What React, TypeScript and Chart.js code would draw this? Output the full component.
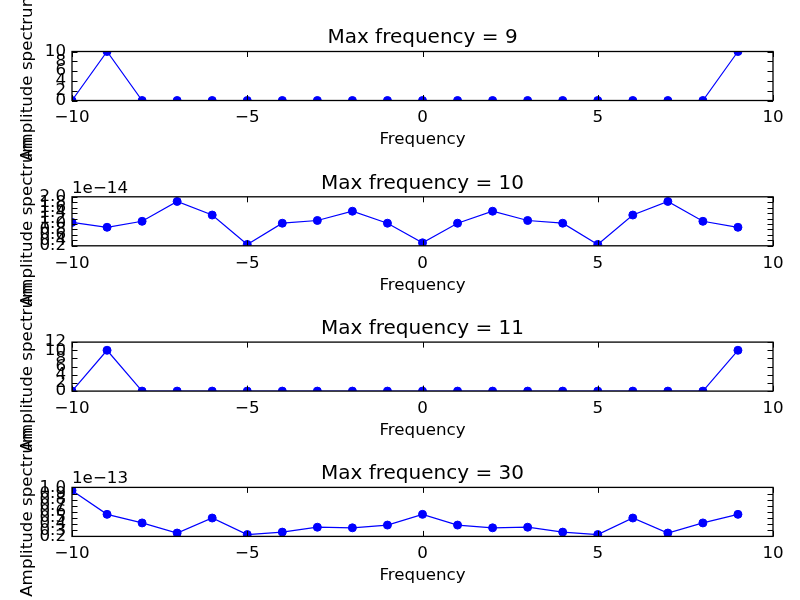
import React, { useEffect, useRef } from "react";
import { Chart, registerables } from "chart.js";

Chart.register(...registerables);

// ---------- data ----------
const FREQUENCIES = [-10, -9, -8, -7, -6, -5, -4, -3, -2, -1, 0, 1, 2, 3, 4, 5, 6, 7, 8, 9];

const AMP_MAX9 = [0, 10, 0, 0, 0, 0, 0, 0, 0, 0, 0, 0, 0, 0, 0, 0, 0, 0, 0, 10];
const AMP_MAX10 = [
  1.06e-14, 0.88e-14, 1.1e-14, 1.83e-14, 1.33e-14, 0.25e-14, 1.03e-14, 1.13e-14, 1.47e-14, 1.03e-14,
  0.31e-14, 1.03e-14, 1.47e-14, 1.13e-14, 1.03e-14, 0.25e-14, 1.33e-14, 1.83e-14, 1.1e-14, 0.88e-14,
];
const AMP_MAX11 = [0, 10, 0, 0, 0, 0, 0, 0, 0, 0, 0, 0, 0, 0, 0, 0, 0, 0, 0, 10];
const AMP_MAX30 = [
  0.95e-13, 0.56e-13, 0.42e-13, 0.255e-13, 0.5e-13, 0.23e-13, 0.27e-13, 0.35e-13, 0.34e-13, 0.385e-13,
  0.56e-13, 0.385e-13, 0.34e-13, 0.35e-13, 0.27e-13, 0.23e-13, 0.5e-13, 0.255e-13, 0.42e-13, 0.56e-13,
];

const TITLES = ["Max frequency = 9", "Max frequency = 10", "Max frequency = 11", "Max frequency = 30"];
const X_LABEL = "Frequency";
const Y_LABEL = "Amplitude spectrum";

const X_TICKS = [-10, -5, 0, 5, 10];
const Y_TICKS_MAX9 = [0, 2, 4, 6, 8, 10];
const Y_TICKS_MAX10 = [0.2, 0.4, 0.6, 0.8, 1.0, 1.2, 1.4, 1.6, 1.8, 2.0];
const Y_TICKS_MAX11 = [0, 2, 4, 6, 8, 10, 12];
const Y_TICKS_MAX30 = [0.2, 0.3, 0.4, 0.5, 0.6, 0.7, 0.8, 0.9, 1.0];

const Y_SCALE_FACTORS = [1, 1e-14, 1, 1e-13];
const OFFSET_TEXTS = ["", "1e\u221214", "", "1e\u221213"];
const Y_DECIMALS = [0, 1, 0, 1];

// ---------- layout (pixels) ----------
const AXES_TOPS = [51.5, 196.8, 342.1, 487.4];
const AXES_HEIGHT = 49;
const AXES_LEFT = 72;
const AXES_RIGHT = 773;
const W = 800;
const H = 600;
const X_AXIS_BOX = 49.5;
const TITLE_FONT = 20;
const TITLE_GAP = 13.3;
const LABEL_FONT = 16.7;
const FONT_FAMILY = "'DejaVu Sans', sans-serif";

const SERIES = [AMP_MAX9, AMP_MAX10, AMP_MAX11, AMP_MAX30];
const Y_TICKS = [Y_TICKS_MAX9, Y_TICKS_MAX10, Y_TICKS_MAX11, Y_TICKS_MAX30];

const fmtMinus = (s: string) => s.replace("-", "\u2212");

const framePlugin = {
  id: "mplFrame",
  afterDatasetsDraw(chart: any, _args: any, opts: any) {
    const { ctx, chartArea } = chart;
    const { left, right, top, bottom } = chartArea;
    const xs = chart.scales.x;
    const ys = chart.scales.y;
    const L = 5.5;
    ctx.save();
    ctx.strokeStyle = "#000";
    ctx.lineWidth = 1;
    ctx.beginPath();
    xs.ticks.forEach((t: any) => {
      const px = Math.round(xs.getPixelForValue(t.value)) + 0.5;
      ctx.moveTo(px, bottom);
      ctx.lineTo(px, bottom - L);
      ctx.moveTo(px, top);
      ctx.lineTo(px, top + L);
    });
    ys.ticks.forEach((t: any) => {
      const py = Math.round(ys.getPixelForValue(t.value)) + 0.5;
      ctx.moveTo(left, py);
      ctx.lineTo(left + L, py);
      ctx.moveTo(right, py);
      ctx.lineTo(right - L, py);
    });
    ctx.stroke();
    ctx.lineWidth = 1.3;
    ctx.strokeRect(left, top, right - left, bottom - top);
    ctx.fillStyle = "#000";
    if (opts && opts.offsetText) {
      ctx.font = `${LABEL_FONT}px ${FONT_FAMILY}`;
      ctx.textAlign = "left";
      ctx.textBaseline = "alphabetic";
      ctx.fillText(opts.offsetText, left, top - 4);
    }
    if (opts && opts.title) {
      ctx.font = `${TITLE_FONT}px ${FONT_FAMILY}`;
      ctx.textAlign = "center";
      ctx.textBaseline = "middle";
      ctx.fillText(opts.title, (left + right) / 2, top - TITLE_GAP);
    }
    ctx.restore();
  },
};

function Subplot({ index }: { index: number }) {
  const ref = useRef<HTMLCanvasElement>(null);
  useEffect(() => {
    const canvas = ref.current;
    if (!canvas) return;
    const factor = Y_SCALE_FACTORS[index];
    const yTicks = Y_TICKS[index].map((v) => v * factor);
    const values = SERIES[index];
    const top = AXES_TOPS[index];
    const bottom = top + AXES_HEIGHT;
    const chart = new Chart(canvas, {
      type: "line",
      data: {
        datasets: [
          {
            data: FREQUENCIES.map((f, i) => ({ x: f, y: values[i] })),
            borderColor: "#0000ff",
            backgroundColor: "#0000ff",
            borderWidth: 1.2,
            pointRadius: 4,
            pointBorderWidth: 1,
            pointBackgroundColor: "#0000ff",
            pointBorderColor: "#0000ff",
            tension: 0,
            fill: false,
            clip: 0,
          } as any,
        ],
      },
      options: {
        responsive: false,
        animation: false,
        devicePixelRatio: 1,
        events: [],
        layout: {
          padding: {
            top: top,
            bottom: H - bottom - X_AXIS_BOX,
            left: 0,
            right: W - AXES_RIGHT,
          },
        },
        plugins: {
          legend: { display: false },
          tooltip: { enabled: false },
          title: { display: false },
          mplFrame: { offsetText: OFFSET_TEXTS[index], title: TITLES[index] },
        } as any,
        scales: {
          x: {
            type: "linear",
            min: X_TICKS[0],
            max: X_TICKS[X_TICKS.length - 1],
            grid: { display: false, drawTicks: false },
            border: { display: false },
            afterBuildTicks: (scale: any) => {
              scale.ticks = X_TICKS.map((v) => ({ value: v }));
            },
            afterFit: (scale: any) => {
              scale.height = X_AXIS_BOX;
            },
            ticks: {
              autoSkip: false,
              maxRotation: 0,
              padding: 7.5,
              color: "#000",
              font: { family: FONT_FAMILY, size: LABEL_FONT, lineHeight: 1.2 },
              callback: (v: any) => fmtMinus(String(v)),
            },
            title: {
              display: true,
              text: X_LABEL,
              color: "#000",
              font: { family: FONT_FAMILY, size: LABEL_FONT, lineHeight: 1.2 },
              padding: { top: 0, bottom: 0 },
            },
          },
          y: {
            type: "linear",
            min: yTicks[0],
            max: yTicks[yTicks.length - 1],
            grid: { display: false, drawTicks: false },
            border: { display: false },
            afterBuildTicks: (scale: any) => {
              scale.ticks = yTicks.map((v) => ({ value: v }));
            },
            afterFit: (scale: any) => {
              scale.width = AXES_LEFT;
            },
            ticks: {
              autoSkip: false,
              padding: 6,
              color: "#000",
              font: { family: FONT_FAMILY, size: LABEL_FONT, lineHeight: 1.2 },
              callback: (v: any) => fmtMinus((Number(v) / factor).toFixed(Y_DECIMALS[index])),
            },
            title: {
              display: true,
              text: Y_LABEL,
              color: "#000",
              font: { family: FONT_FAMILY, size: LABEL_FONT, lineHeight: 1.2 },
              padding: { top: 18, bottom: 0 },
            },
          },
        },
      } as any,
      plugins: [framePlugin as any],
    });
    return () => chart.destroy();
  }, [index]);
  return (
    <canvas
      ref={ref}
      width={W}
      height={H}
      style={{ position: "absolute", left: 0, top: 0, width: W, height: H, display: "block" }}
    />
  );
}

export default function App() {
  return (
    <div style={{ position: "fixed", left: 0, top: 0, width: W, height: H, background: "#fff", overflow: "hidden" }}>
      {TITLES.map((_, i) => (
        <Subplot key={i} index={i} />
      ))}
    </div>
  );
}
